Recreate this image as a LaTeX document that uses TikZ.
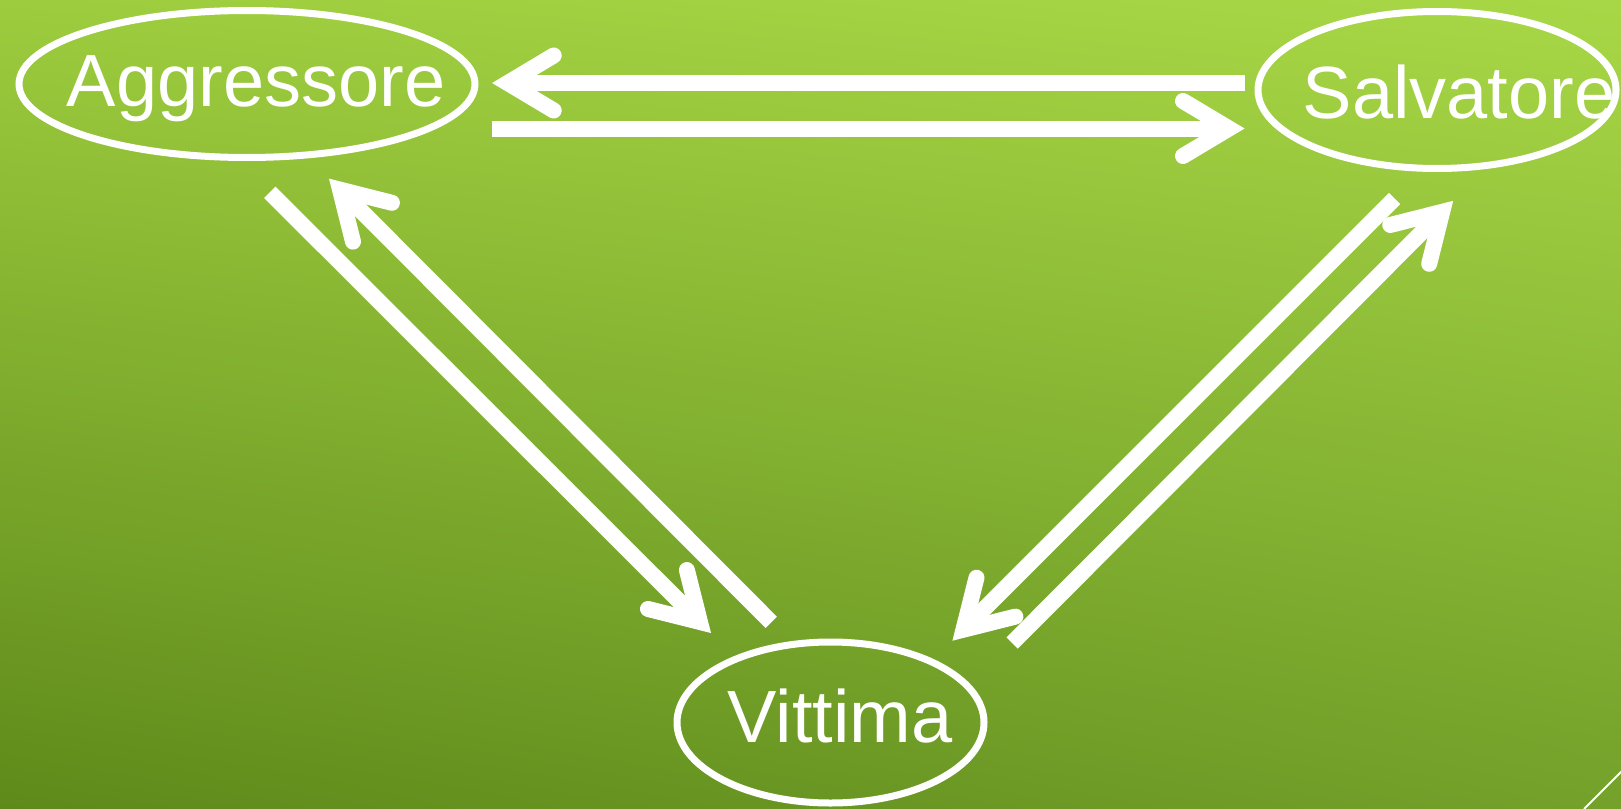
\documentclass[tikz,border=0pt]{standalone}
\usepackage{fontspec}
\setmainfont{Liberation Sans}
\usetikzlibrary{shapes.geometric,calc,shadings}

\definecolor{bgUL}{HTML}{9DCC3E}
\definecolor{bgUR}{HTML}{A8D746}
\definecolor{bgLL}{HTML}{5E8A1A}
\definecolor{bgLR}{HTML}{73A12A}

% Thick white arrow: shaft from #1 to the tip #2, open barbed head with round ends
\newcommand\barbarrow[2]{%
  \draw[shaft] (#1) -- ($(#2)!16pt!(#1)$);
  \draw[barb] ($(#2)!62pt!(#1)!27.5pt!90:(#2)$) -- ($(#2)!16pt!(#1)$)
              -- ($(#2)!62pt!(#1)!27.5pt!-90:(#2)$);
}

\begin{document}
\begin{tikzpicture}[x=1pt,y=-1pt,
  role/.style={ellipse, draw=white, line width=7pt, inner sep=0pt},
  rolename/.style={text=white, anchor=base, inner sep=0pt,
                   font=\fontsize{74}{80}\selectfont},
  shaft/.style={draw=white, line width=16pt},
  barb/.style={draw=white, line width=16pt, line cap=round, line join=miter}]

% background
\shade[upper left=bgUL, upper right=bgUR, lower left=bgLL, lower right=bgLR]
  (0,0) rectangle (1621,808);
\useasboundingbox (0,0) rectangle (1621,808);

% roles
\node[role, minimum width=456pt, minimum height=147pt] (aggr) at (247,84) {};
\node[role, minimum width=358pt, minimum height=157pt] (salv) at (1437,90) {};
\node[role, minimum width=307pt, minimum height=161pt] (vitt) at (830.5,722.5) {};

\node[rolename] (aggrT) at (256,106) {Aggressore};
\node[rolename] (salvT) at (1459,118) {Salvatore};
\node[rolename] (vittT) at (840,742) {Vittima};

% arrow end points
\coordinate (sA1) at (1245,83);      \coordinate (tA1) at (491.7,83);
\coordinate (sA2) at (491.7,128.5);  \coordinate (tA2) at (1245,128.5);
\coordinate (sA3) at (269.8,192.3);  \coordinate (tA3) at (711.3,633.3);
\coordinate (sA4) at (771.2,622.3);  \coordinate (tA4) at (328.7,178.3);
\coordinate (sA5) at (1394.6,198.5); \coordinate (tA5) at (952.1,641);
\coordinate (sA6) at (1012.1,643);   \coordinate (tA6) at (1453.5,200.5);

\barbarrow{sA1}{tA1}
\barbarrow{sA2}{tA2}
\barbarrow{sA3}{tA3}
\barbarrow{sA4}{tA4}
\barbarrow{sA5}{tA5}
\barbarrow{sA6}{tA6}

% corner accent
\draw[white, line width=2pt] (1584,809) -- (1622,771);
\end{tikzpicture}
\end{document}
